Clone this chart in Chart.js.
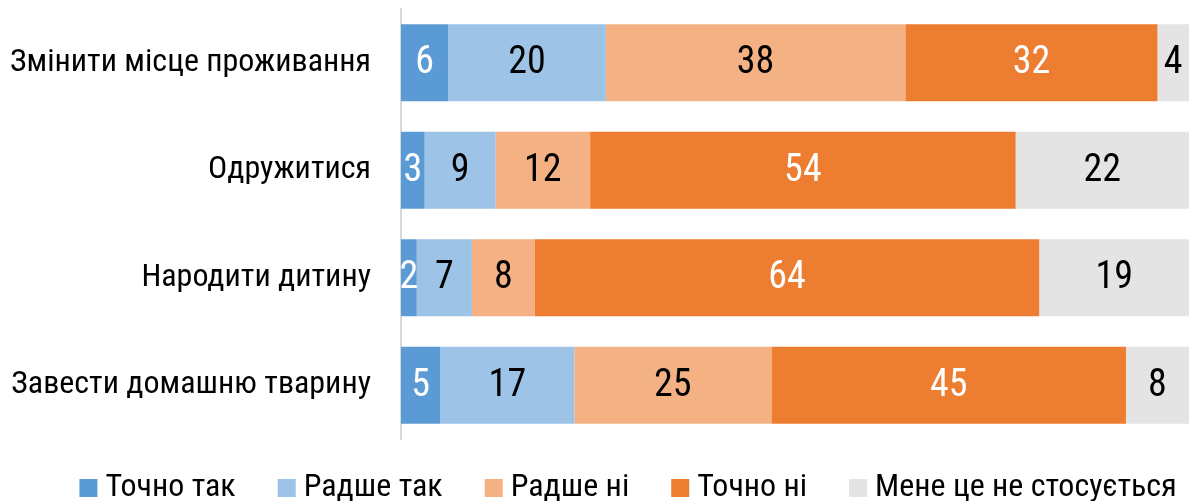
<!DOCTYPE html>
<html><head><meta charset="utf-8">
<script src="https://cdn.jsdelivr.net/npm/chart.js@4"></script>
<style>html,body{margin:0;padding:0;background:#fff}#wrap{width:1197px;height:501px}</style>
</head><body><div id="wrap"><canvas id="c"></canvas></div>
<script>
const categories = ['Змінити місце проживання', 'Одружитися', 'Народити дитину', 'Завести домашню тварину'];
const seriesNames = ['Точно так', 'Радше так', 'Радше ні', 'Точно ні', 'Мене це не стосується'];
const tochnoTak = [6, 3, 2, 5];
const radsheTak = [20, 9, 7, 17];
const radsheNi = [38, 12, 8, 25];
const tochnoNi = [32, 54, 64, 45];
const neStosuietsia = [4, 22, 19, 8];
const colors = ['#5B9BD5', '#9DC3E6', '#F4B183', '#ED7D31', '#E4E4E4'];
const labelColors = ['#fff', '#000', '#000', '#fff', '#000'];
const FONT = "'Roboto Condensed', 'Liberation Sans Narrow', 'Roboto', sans-serif";

const values = [tochnoTak, radsheTak, radsheNi, tochnoNi, neStosuietsia];
const datasets = values.map((v, i) => ({
  label: seriesNames[i], data: v, backgroundColor: colors[i],
  borderWidth: 0, barPercentage: 0.716, categoryPercentage: 1
}));

const valueLabels = {
  id: 'valueLabels',
  afterDatasetsDraw(chart) {
    const ctx = chart.ctx;
    ctx.save();
    ctx.font = '38px ' + FONT;
    ctx.textAlign = 'center';
    ctx.textBaseline = 'middle';
    chart.data.datasets.forEach((ds, i) => {
      const meta = chart.getDatasetMeta(i);
      meta.data.forEach((bar, j) => {
        const p = bar.getProps(['x', 'y', 'base'], true);
        ctx.fillStyle = labelColors[i];
        ctx.fillText(String(ds.data[j]), (p.x + p.base) / 2, p.y + 1);
      });
    });
    ctx.restore();
  }
};

const bottomLegend = {
  id: 'bottomLegend',
  afterDraw(chart) {
    const ctx = chart.ctx;
    ctx.save();
    ctx.font = '32px ' + FONT;
    ctx.textBaseline = 'middle';
    ctx.textAlign = 'left';
    const box = 18, gapText = 8, gapItem = 42, cy = 488, centerX = 628;
    const items = chart.data.datasets.map(ds => ({ text: ds.label, color: ds.backgroundColor, w: ctx.measureText(ds.label).width }));
    const total = items.reduce((s, it) => s + box + gapText + it.w, 0) + gapItem * (items.length - 1);
    let x = centerX - total / 2;
    items.forEach(it => {
      ctx.fillStyle = it.color;
      ctx.fillRect(x, cy - box / 2, box, box);
      ctx.fillStyle = '#000';
      ctx.fillText(it.text, x + box + gapText, cy);
      x += box + gapText + it.w + gapItem;
    });
    ctx.restore();
  }
};

new Chart(document.getElementById('c'), {
  type: 'bar',
  data: { labels: categories, datasets },
  options: {
    indexAxis: 'y', responsive: true, maintainAspectRatio: false, animation: false,
    layout: { padding: { top: 9, right: 8, left: 0, bottom: 62 } },
    scales: {
      x: { stacked: true, min: 0, max: 100, display: false },
      y: {
        stacked: true,
        grid: { display: true, drawOnChartArea: false, drawTicks: true, tickLength: 30, color: 'rgba(0,0,0,0)' },
        border: { display: true, color: '#D9D9D9', width: 2 },
        ticks: { color: '#000', font: { family: FONT, size: 32, lineHeight: 0.4 }, padding: 0 },
        afterFit(scale) { scale.width = 401; }
      }
    },
    plugins: {
      tooltip: { enabled: false },
      legend: { display: false }
    }
  },
  plugins: [valueLabels, bottomLegend]
});
</script></body></html>
